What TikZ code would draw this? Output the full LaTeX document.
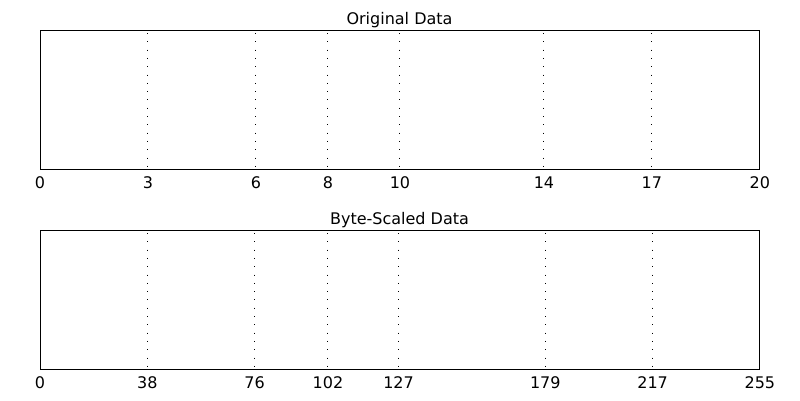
\documentclass[tikz,border=0pt]{standalone}
\usepackage{fontspec}
\setmainfont{DejaVu Sans}
\usetikzlibrary{calc}
\tikzset{
  databox/.style={draw=black, line width=0.9pt},
  tickline/.style={line width=1pt, dash pattern=on 1pt off 7.3pt},
  ticklabel/.style={anchor=base, inner sep=0pt},
  titlelabel/.style={anchor=base, inner sep=0pt}
}
\begin{document}
\begin{tikzpicture}[x=1pt, y=-1pt, font=\fontsize{16}{19}\selectfont]
    \useasboundingbox (0,0) rectangle (800,400);

    % Original data
    \node[databox, minimum width=719pt, minimum height=139pt, anchor=north west, inner sep=0pt] (orig) at (40,30) {};
    \node[titlelabel] (origtitle) at (399.5,24.5) {Original Data};
    \foreach \v in {3,6,8,10,14,17}
        \draw[tickline] ($(orig.north west)!{\v/20}!(orig.north east)+(0,3)$) coordinate (ot\v) -- ($(orig.south west)!{\v/20}!(orig.south east)$);
    \foreach \v in {0,3,6,8,10,14,17,20}
        \node[ticklabel] (ol\v) at ($(orig.south west)!{\v/20}!(orig.south east)+(0,18.5)$) {\v};

    % Byte-scaled data
    \node[databox, minimum width=719pt, minimum height=139pt, anchor=north west, inner sep=0pt] (byte) at (40,230) {};
    \node[titlelabel] (bytetitle) at (399.5,224.5) {Byte-Scaled Data};
    \foreach \v in {38,76,102,127,179,217}
        \draw[tickline] ($(byte.north west)!{\v/255}!(byte.north east)+(0,3)$) coordinate (bt\v) -- ($(byte.south west)!{\v/255}!(byte.south east)$);
    \foreach \v in {0,38,76,102,127,179,217,255}
        \node[ticklabel] (bl\v) at ($(byte.south west)!{\v/255}!(byte.south east)+(0,18.5)$) {\v};
\end{tikzpicture}
\end{document}
